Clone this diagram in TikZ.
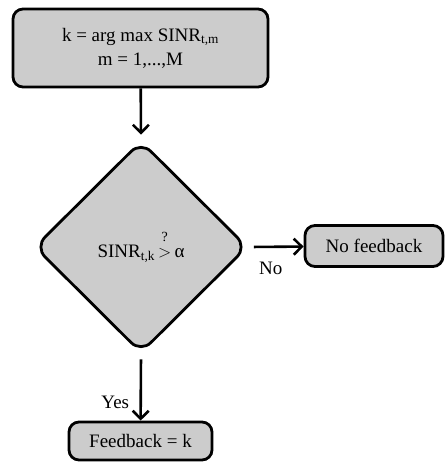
\documentclass[tikz,border=0pt]{standalone}
\usepackage{fontspec}
\setmainfont{Liberation Serif}
\usetikzlibrary{shapes.geometric,arrows.meta}
\tikzstyle{boite} = [rectangle, rounded corners=10pt, draw=black, line width=2.8pt, fill=black!20, align=center, inner sep=0pt, font=\fontsize{19}{24}\selectfont]
\tikzstyle{test} = [diamond, rounded corners=14pt, draw=black, line width=2.8pt, fill=black!20, inner sep=0pt, font=\fontsize{19}{24}\selectfont]
\tikzstyle{fleche} = [line width=2.6pt, -{Straight Barb[length=8pt,width=16pt,line width=2.6pt]}]

\begin{document}
\begin{tikzpicture}[x=1pt, y=-1pt]

        \useasboundingbox (0,0) rectangle (445,462);

        \node (choix) [boite, minimum width=255pt, minimum height=78pt] at (140.5,48) {k = arg max SINR\textsubscript{t,m}\\m = 1,...,M};
        \node (seuil) [test, minimum width=213pt, minimum height=212pt] at (141,247) {SINR\textsubscript{t,k}\,$\stackrel{\raisebox{4pt}{\hbox{\fontsize{14}{14}\selectfont ?}}}{>}$\,α};
        \node (rien) [boite, minimum width=138pt, minimum height=41pt] at (374,246) {No feedback};
        \node (retour) [boite, minimum width=143pt, minimum height=38pt] at (140.5,441) {Feedback = k};

        \draw[fleche, shorten >=5pt] (choix) -- (seuil.north);
        \draw[fleche, shorten <=5pt] (seuil.east) -- (rien) node [pos=0.4, below=11pt, font=\fontsize{19}{24}\selectfont] {No};
        \draw[fleche, shorten <=5pt] (seuil.south) -- (retour) node [pos=0.72, left=7pt, font=\fontsize{19}{24}\selectfont] {Yes};

    \end{tikzpicture}
\end{document}
